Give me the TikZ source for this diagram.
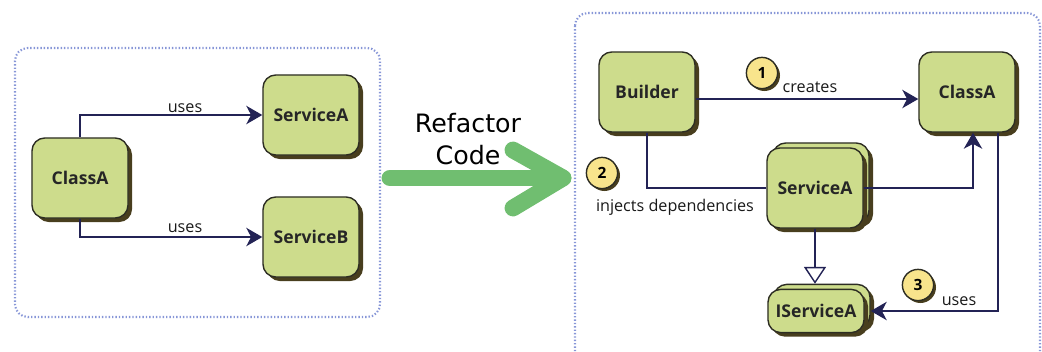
\documentclass[tikz,border=0pt]{standalone}
\usepackage{fontspec}
\setmainfont{Open Sans}
\newfontfamily\refactorfont{DejaVu Sans}
\usetikzlibrary{arrows.meta, positioning, calc, shadows}
\definecolor{boxgreen}{RGB}{205,220,140}
\definecolor{boxshadow}{RGB}{72,62,30}
\definecolor{boxborder}{RGB}{45,45,35}
\definecolor{linkblue}{RGB}{35,35,85}
\definecolor{badgeyellow}{RGB}{248,228,140}
\definecolor{framedots}{RGB}{135,150,215}
\definecolor{refgreen}{RGB}{112,190,112}

\begin{document}
\begin{tikzpicture}[x=0.025cm, y=-0.025cm, >={Stealth[length=0.4cm, width=0.46cm, inset=0.12cm]}, link/.style={draw=linkblue, line width=1pt}, frame/.style={draw=framedots, line width=1.5pt, dash pattern=on 1pt off 1.4pt, rounded corners=0.32cm}]
% Define styles for boxes, badges and labels
\tikzstyle{box} = [draw=boxborder, fill=boxgreen, line width=1pt, rounded corners=0.32cm, minimum width=2.4cm, minimum height=2cm, font=\fontsize{12.5}{14}\selectfont\bfseries, text=black!85, drop shadow={shadow xshift=0.1cm, shadow yshift=-0.1cm, fill=boxshadow, opacity=1}]
\tikzstyle{badge} = [draw=boxborder, fill=badgeyellow, circle, line width=1pt, minimum size=0.78cm, inner sep=0pt, font=\fontsize{11}{13}\selectfont\bfseries, drop shadow={shadow xshift=0.06cm, shadow yshift=-0.06cm, fill=boxshadow, opacity=1}]
\tikzstyle{linktext} = [font=\fontsize{11.5}{13}\selectfont, text=black!90, inner sep=1pt]

\clip (0,0) rectangle (1042,351);

% Frames
\draw[frame] (15,48) rectangle (380,317);
\draw[frame] (575,13) rectangle (1040,370);

% Nodes placement, before refactoring
\node [box] (classL) at (80,178) {ClassA};
\node [box] (servA) at (311,115) {ServiceA};
\node [box] (servB) at (311,237) {ServiceB};
\node [linktext] (usesA) at (185,108) {uses};
\node [linktext] (usesB) at (185,228) {uses};

% Refactor arrow
\node [font=\refactorfont\fontsize{18}{23}\selectfont, align=center] (refactor) at (468,139) {Refactor\\Code};
\coordinate (refStart) at (390,178);
\coordinate (refEnd) at (563,178);

% Nodes placement, after refactoring
\node [box] (builder) at (647,92) {Builder};
\node [box] (classR) at (967,92) {ClassA};
\node [box] (servRback) at (821,183) {};
\node [box] (servR) at (815,188) {ServiceA};
\node [box, minimum height=1.08cm] (iservBack) at (822,306) {};
\node [box, minimum height=1.08cm] (iserv) at (816,311) {IServiceA};
\node [badge] (one) at (762,73) {1};
\node [badge] (two) at (602,173) {2};
\node [badge] (three) at (918,285) {3};
\node [linktext] (creates) at (810,87) {creates};
\node [linktext] (injects) at (675,207) {injects dependencies};
\node [linktext] (usesC) at (959,301) {uses};

% Draw edges
\draw[link,->] (classL.north) |- (servA.west);
\draw[link,->] (classL.south) |- (servB.west);
\draw[refgreen, line width=12pt, line cap=round, line join=round] (refStart) -- (refEnd);
\draw[refgreen, line width=12pt, line cap=round, line join=round] ($(refEnd)+(-50,-28)$) -- (refEnd) -- ($(refEnd)+(-50,30)$);
\draw[link,->] ([yshift=-0.175cm]builder.east) -- ([yshift=-0.175cm]classR.west);
\draw[link] (builder.south) |- (servR.west);
\draw[link,->] (servR.east) -| ([xshift=0.15cm]classR.south);
\draw[link,-{Triangle[length=0.42cm, width=0.55cm, fill=white]}] (servR.south) -- (servR.south |- iservBack.north);
\draw[link,->] ([xshift=0.775cm]classR.south) |- (iservBack.east |- iserv.east);
\end{tikzpicture}
\end{document}
